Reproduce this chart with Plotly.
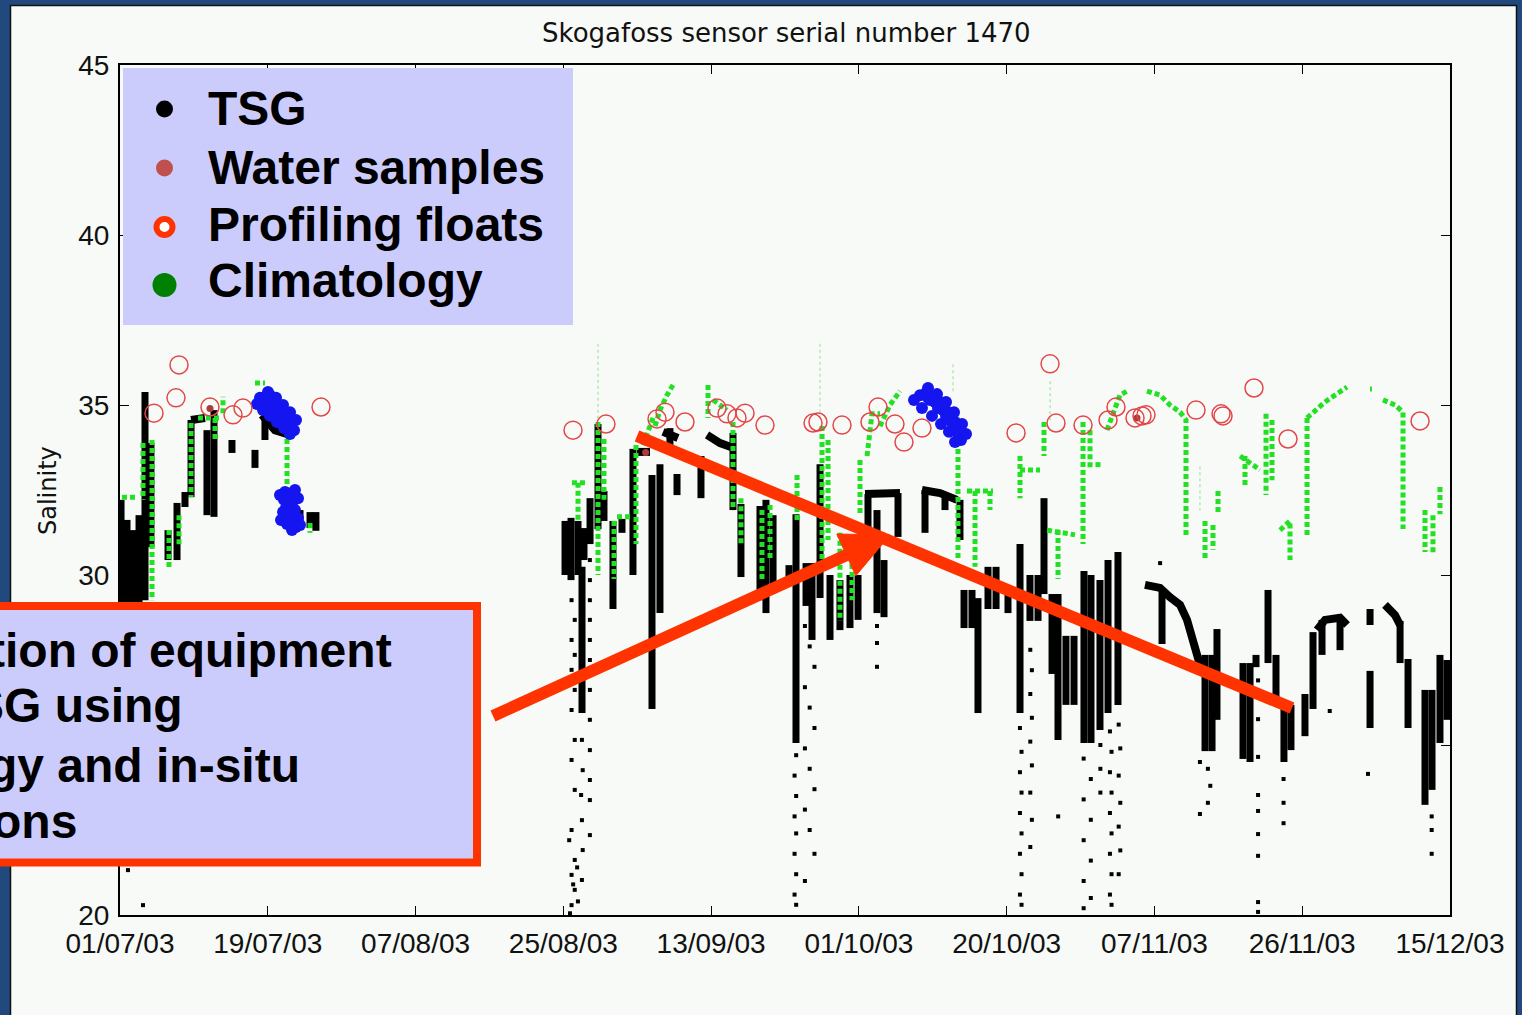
import plotly.graph_objects as go

# ---------------- data ----------------
date_labels = ["01/07/03", "19/07/03", "07/08/03", "25/08/03", "13/09/03",
               "01/10/03", "20/10/03", "07/11/03", "26/11/03", "15/12/03"]
days_shown = 167          # 01/07/03 .. 15/12/03, x axis = days since 01/07/03
sal_ticks = [20, 25, 30, 35, 40, 45]
sal_tick_text = ["20", "", "30", "35", "40", "45"]   # the 25 label is hidden by the slide's text box

# TSG: dense vertical bands (day, lowest and highest salinity of the band)
tsg_col_day = [0.13, 0.88, 1.63, 2.39, 3.14, 3.89, 6.03, 7.16, 8.16, 8.92,
               10.92, 11.80, 14.06, 16.95, 18.20, 21.60, 22.60, 23.86, 24.60, 55.88,
               56.63, 57.51, 58.26, 58.01, 59.02, 60.02, 60.77, 61.90, 63.03, 64.41,
               66.80, 67.80, 69.05, 69.94, 72.95, 76.97, 77.97, 80.36, 81.11, 82.00,
               84.00, 84.88, 86.14, 86.89, 87.90, 89.15, 90.40, 91.66, 92.67, 93.92,
               95.05, 95.93, 97.69, 101.08, 103.59, 105.47, 105.98, 106.98, 107.73, 108.99,
               110.00, 111.50, 113.01, 114.26, 115.27, 116.02, 117.03, 117.78, 118.78, 119.79,
               121.04, 121.92, 123.05, 124.06, 125.31, 130.84, 136.24, 137.12, 137.74, 141.01,
               141.89, 142.64, 144.15, 145.15, 146.15, 147.03, 148.79, 149.80, 150.93, 153.19,
               156.96, 156.96, 160.73, 161.73, 163.86, 164.74, 165.74, 166.62]
tsg_col_lo = [28.50, 28.50, 28.50, 28.50, 29.26, 30.82, 30.44, 30.44, 32.00, 32.29,
              31.76, 31.71, 33.59, 33.15, 33.97, 31.24, 31.32, 31.38, 31.30, 30.00,
              29.85, 30.00, 30.44, 25.94, 30.91, 31.35, 31.59, 29.00, 31.24, 30.00,
              26.06, 28.88, 33.82, 32.35, 32.26, 31.91, 29.94, 29.26, 28.88, 29.56,
              29.88, 25.06, 29.09, 28.09, 29.32, 28.09, 28.38, 28.44, 28.68, 30.91,
              28.88, 28.76, 31.12, 31.24, 31.91, 31.03, 28.44, 28.44, 25.94, 29.00,
              29.00, 28.88, 25.94, 28.65, 28.65, 29.44, 27.09, 25.15, 26.18, 26.18,
              25.06, 25.06, 25.44, 25.94, 26.18, 27.97, 24.82, 24.82, 25.74, 24.59,
              24.50, 27.29, 27.41, 26.18, 24.50, 24.85, 25.26, 26.06, 27.65, 27.79,
              28.53, 25.50, 27.41, 25.50, 23.24, 23.68, 25.06, 25.74]
tsg_col_hi = [32.21, 31.62, 31.32, 31.76, 35.38, 33.88, 31.32, 32.12, 32.44, 34.56,
              34.26, 34.85, 33.97, 33.68, 34.71, 32.00, 31.91, 31.85, 31.85, 31.59,
              31.68, 31.59, 31.38, 30.24, 32.26, 34.44, 32.47, 31.59, 31.65, 33.71,
              32.94, 33.26, 34.32, 32.97, 33.50, 34.18, 32.09, 32.03, 32.21, 31.76,
              30.29, 31.79, 30.35, 30.35, 33.26, 30.00, 29.85, 30.00, 30.00, 32.38,
              31.91, 30.44, 32.41, 32.50, 32.35, 32.21, 29.56, 29.56, 29.32, 30.24,
              30.24, 29.56, 30.91, 30.00, 30.00, 32.26, 29.44, 29.44, 28.21, 28.21,
              30.12, 30.00, 29.85, 30.44, 30.68, 29.56, 27.65, 27.65, 28.41, 27.41,
              27.41, 27.65, 29.56, 27.65, 26.18, 26.18, 26.50, 28.32, 28.68, 28.74,
              29.00, 27.18, 28.65, 27.53, 26.62, 26.62, 27.65, 27.50]

# TSG: plateau runs (None separates runs)
tsg_run_day = [8.92, 10.67, None, 17.83, 19.46, 21.35, None, 64.92, 66.55, None,
               68.18, 70.06, None, 73.71, 75.34, 76.97, None, 93.55, 97.94, None,
               100.70, 102.96, 105.10, None,
               128.70, 130.59, 131.84, 133.10, 133.98, 134.98, 135.61, None,
               150.30, 151.31, 153.19, 154.07, None, 158.84, 160.10, 160.73]
tsg_run_sal = [34.56, 34.62, None, 34.71, 34.26, 34.12, None, 33.62, 33.62, None,
               34.21, 34.03, None, 34.12, 33.88, 33.74, None, 32.38, 32.41, None,
               32.50, 32.41, 32.21, None,
               29.71, 29.62, 29.35, 29.12, 28.68, 27.94, 27.35, None,
               28.38, 28.68, 28.74, 28.53, None, 29.12, 28.82, 28.53]

# TSG: isolated low-salinity readings
tsg_pt_day = [1.0, 2.89,
              56.7, 57.1, 56.7, 57.1, 56.7, 57.1, 56.7, 57.1, 56.7, 57.1, 56.7, 57.1, 56.7, 57.1, 56.7,
              58.0, 58.1, 57.9, 58.0, 58.1, 58.0,
              59.0, 59.0, 59.0, 59.0, 59.0, 59.0, 59.0, 59.0, 59.0, 59.0, 59.0, 59.0,
              56.4, 57.4, 56.9, 57.5, 56.5,
              84.9, 84.7, 84.9, 84.7, 84.9, 84.7, 84.9, 84.7, 84.9,
              86.0, 86.6, 87.2, 86.0, 86.6, 87.2, 86.0, 86.6, 87.2, 86.0, 86.6, 87.2, 86.0,
              95.05, 95.05, 95.05,
              113.0, 113.2, 113.0, 113.2, 113.0, 113.2, 113.0, 113.2, 113.0, 113.2,
              114.3, 114.5, 114.3, 114.5, 114.3, 114.5, 114.3, 114.5, 114.3,
              117.8,
              121.0, 121.9, 121.0, 121.9, 121.0, 121.9, 121.0, 121.9, 121.0,
              123.1, 123.1, 123.1,
              124.3, 124.5, 124.3, 124.5, 124.3, 124.5, 124.3, 124.5, 124.3, 124.5,
              125.4, 125.6, 125.4, 125.6, 125.4, 125.6, 125.4,
              130.6,
              135.6, 135.6,
              136.6, 136.9, 136.6,
              142.9, 142.9, 142.9, 142.9, 142.9, 142.9, 142.9, 142.9, 142.9,
              146.1, 146.1, 146.1,
              151.9,
              156.7,
              164.7, 164.7, 164.7]
tsg_pt_sal = [21.32, 20.29,
              29.26, 28.68, 28.09, 27.65, 27.21, 26.62, 26.03, 25.15, 24.56, 23.68, 22.50, 21.62, 21.18, 20.74, 20.29,
              25.15, 24.26, 23.53, 22.79, 21.91, 21.03,
              30.44, 29.85, 29.26, 28.68, 28.09, 27.50, 26.62, 25.74, 24.85, 23.97, 23.38, 22.35,
              22.2, 21.4, 20.9, 20.4, 20.05,
              24.7, 24.1, 23.5, 22.9, 22.4, 21.8, 21.2, 20.6, 20.3,
              28.5, 27.9, 27.3, 26.7, 26.1, 25.5, 24.9, 24.3, 23.7, 23.1, 22.5, 21.8, 21.0,
              28.5, 28.0, 27.3,
              25.5, 24.8, 24.2, 23.6, 23.0, 22.4, 21.8, 21.2, 20.6, 20.3,
              27.8, 27.2, 26.5, 25.8, 25.1, 24.4, 23.6, 22.8, 22.0,
              22.9,
              24.6, 24.0, 23.4, 22.8, 22.2, 21.6, 21.0, 20.5, 20.2,
              25.0, 24.3, 23.6,
              25.4, 24.8, 24.2, 23.6, 23.0, 22.4, 21.8, 21.2, 20.6, 20.3,
              25.6, 24.9, 24.1, 23.3, 22.6, 21.9, 21.2,
              30.35,
              24.50, 22.97,
              24.3, 23.8, 23.3,
              26.9, 25.76, 24.65, 23.53, 23.06, 22.38, 21.74, 20.38, 20.09,
              24.0, 23.3, 22.7,
              26.0,
              24.15,
              22.9, 22.5, 21.8]

# Climatology (None separates runs)
clim_day = [0.25, 1.88, None, 2.89, 2.89, None, 4.02, 4.02, None, 6.15, 6.15, None,
            7.41, 7.41, None, 8.92, 8.92, None, 9.79, 12.56, None, 11.93, 11.93, None,
            12.93, 12.93, None, 16.95, 18.21, None, 20.97, 20.97, None, 21.35, 21.35, None,
            23.86, 23.86, None, 56.75, 58.39, None, 57.51, 57.51, None, 60.02, 60.02, None,
            60.77, 60.77, None, 62.03, 62.03, None, 62.41, 64.29, None, 64.79, 64.79, None,
            65.67, 66.93, None, 67.18, 67.80, 68.68, 69.44, None,
            73.83, 73.83, None, 74.46, 76.22, None, 76.97, 76.97, None, 77.97, 77.97, None,
            80.61, 80.61, None, 81.62, 81.62, None, 85.01, 85.01, None, 88.15, 88.15, None,
            88.90, 88.90, None, 90.40, 90.40, None, 91.91, 91.91, None, 92.92, 92.92, None,
            93.80, 94.42, 95.43, None, 95.43, 96.68, 97.94, None,
            105.22, 105.22, None, 106.35, 109.62, None, 107.36, 107.36, None, 109.24, 109.24, None,
            113.01, 113.01, None, 113.01, 115.52, None, 116.02, 116.02, None, 116.40, 119.91, None,
            117.78, 117.78, None, 120.92, 120.92, None, 121.80, 121.80, None, 122.80, 122.80, None,
            123.93, 124.69, 125.56, 126.44, None,
            128.95, 130.59, 131.84, 133.10, 133.85, 133.85, None,
            136.24, 136.24, None, 137.24, 137.24, None, 137.87, 137.87, None, 140.64, 143.15, None,
            141.26, 141.26, None, 143.90, 143.90, None, 144.65, 144.65, None,
            145.66, 146.91, 146.91, None, 149.05, 149.05, None,
            149.05, 150.05, 151.31, 152.57, 154.07, None, 156.96, 157.20, None,
            158.59, 160.10, 161.10, 161.10, None,
            163.86, 163.86, None, 164.86, 164.86, None, 165.74, 165.74]
clim_sal = [32.29, 32.29, None, 33.88, 32.21, None, 33.97, 29.26, None, 31.32, 30.15, None,
            31.76, 30.88, None, 34.47, 32.29, None, 34.62, 34.62, None, 34.62, 33.97, None,
            34.76, 35.24, None, 35.65, 35.65, None, 34.47, 32.50, None, 31.53, 31.24, None,
            31.53, 31.24, None, 32.71, 32.71, None, 32.71, 31.59, None, 34.50, 30.00, None,
            34.00, 32.21, None, 31.59, 29.88, None, 31.71, 31.71, None, 33.82, 30.91, None,
            33.82, 34.62, None, 34.38, 34.85, 35.29, 35.59, None,
            35.59, 34.62, None, 35.15, 34.85, None, 34.50, 31.91, None, 32.26, 30.91, None,
            31.91, 29.88, None, 32.06, 30.44, None, 32.94, 31.59, None, 34.38, 30.24, None,
            33.97, 31.03, None, 31.24, 28.65, None, 31.03, 29.26, None, 33.38, 31.79, None,
            33.50, 34.74, 34.74, None, 34.38, 35.00, 35.41, None,
            33.94, 30.44, None, 32.47, 32.47, None, 32.47, 30.24, None, 32.47, 31.91, None,
            33.50, 32.26, None, 33.09, 33.09, None, 34.50, 33.50, None, 31.32, 31.18, None,
            31.32, 29.88, None, 34.50, 30.91, None, 34.26, 33.09, None, 33.32, 33.15, None,
            34.26, 34.79, 35.29, 35.41, None,
            35.41, 35.29, 35.00, 34.79, 34.56, 31.12, None,
            31.59, 30.44, None, 31.47, 30.74, None, 32.47, 31.79, None, 33.50, 33.09, None,
            33.50, 32.59, None, 34.74, 32.35, None, 34.56, 32.79, None,
            31.32, 31.59, 30.44, None, 34.62, 31.12, None,
            34.62, 34.85, 35.09, 35.29, 35.53, None, 35.47, 35.47, None,
            35.15, 35.00, 34.79, 31.35, None,
            31.91, 30.68, None, 31.76, 30.59, None, 32.59, 31.79]

# faint climatology traces
clim_faint_day = [60.02, 60.02, None, 87.90, 87.90, None, 116.80, 116.80, None, 104.60, 104.60, None, 135.60, 135.60]
clim_faint_sal = [36.80, 34.60, None, 36.80, 34.60, None, 35.70, 34.50, None, 36.20, 35.40, None, 33.20, 31.90]

# Profiling floats
float_day = [4.27, 7.03, 7.41, 11.30, 14.19, 15.44, 25.24, 56.88, 61.02, 67.43,
             68.43, 70.94, 74.96, 76.22, 77.47, 78.48, 80.99, 87.02, 87.64, 90.66,
             94.17, 95.18, 97.31, 98.44, 100.70, 112.51, 116.78, 117.53, 120.92, 124.06,
             125.06, 127.45, 128.33, 128.83, 135.11, 138.25, 138.50, 142.39, 146.66, 163.24]
float_sal = [34.76, 35.21, 36.18, 34.94, 34.71, 34.91, 34.94, 34.26, 34.44, 34.59,
             34.79, 34.50, 34.91, 34.74, 34.62, 34.76, 34.41, 34.47, 34.50, 34.41,
             34.50, 34.94, 34.44, 33.91, 34.32, 34.18, 36.21, 34.47, 34.41, 34.56,
             34.94, 34.62, 34.68, 34.71, 34.85, 34.74, 34.68, 35.50, 34.00, 34.53]

# Water samples
sample_day = [11.30, 66.00, 127.70]
sample_sal = [34.90, 33.60, 34.62]

# Blue clusters
blue_day = [17.58, 18.33, 18.83, 18.08, 19.09, 19.59, 19.84, 20.34, 20.72, 21.10, 21.47, 21.85, 20.09, 20.97, 18.83,
            18.58, 19.59, 20.47, 21.35, 22.10, 17.20, 17.96, 18.83, 19.71, 20.59, 21.35,
            20.72, 21.35, 20.59, 21.60, 20.84, 21.97, 21.10, 21.72, 20.97, 22.10, 20.47, 22.35,
            20.09, 22.35, 20.22, 22.60, 21.60, 21.97,
            100.45, 101.21, 101.71, 102.34, 102.71, 103.34, 103.72, 104.22, 104.60, 104.97, 105.35, 105.60,
            102.96, 103.97, 104.85, 101.46,
            101.46, 102.59, 103.72, 104.72, 105.73, 106.23, 99.70, 100.70, 101.96, 103.09, 104.09, 104.85]
blue_sal = [35.21, 35.24, 35.09, 35.00, 34.91, 34.97, 34.79, 34.74, 34.62, 34.50, 34.38, 34.26, 34.56, 34.32, 35.29,
            35.38, 35.21, 35.00, 34.79, 34.56, 35.03, 34.85, 34.68, 34.50, 34.32, 34.15,
            32.44, 32.35, 32.21, 32.12, 31.97, 31.91, 31.76, 31.62, 31.50, 31.41, 31.85, 31.68,
            32.35, 32.26, 31.62, 31.47, 31.32, 32.50,
            35.29, 35.35, 35.15, 35.09, 34.91, 34.85, 34.68, 34.56, 34.38, 34.26, 34.09, 33.97,
            35.09, 34.79, 34.50, 35.21,
            35.50, 35.32, 35.09, 34.79, 34.44, 34.15, 35.15, 34.91, 34.68, 34.44, 34.21, 33.91]

assert len(tsg_col_day) == len(tsg_col_lo) == len(tsg_col_hi)
assert len(tsg_run_day) == len(tsg_run_sal)
assert len(tsg_pt_day) == len(tsg_pt_sal)
assert len(clim_day) == len(clim_sal)
assert len(blue_day) == len(blue_sal)

# ---------------- build traces ----------------
col_x, col_y = [], []
for d, lo, hi in zip(tsg_col_day, tsg_col_lo, tsg_col_hi):
    col_x += [d, d, None]
    col_y += [lo, hi, None]

fig = go.Figure()
fig.add_trace(go.Scatter(x=col_x, y=col_y, mode="lines",
                         line=dict(color="black", width=7), hoverinfo="skip"))
fig.add_trace(go.Scatter(x=tsg_run_day, y=tsg_run_sal, mode="lines",
                         line=dict(color="black", width=8), hoverinfo="skip"))
fig.add_trace(go.Scatter(x=tsg_pt_day, y=tsg_pt_sal, mode="markers",
                         marker=dict(color="black", size=4, symbol="square"), hoverinfo="skip"))
fig.add_trace(go.Scatter(x=clim_faint_day, y=clim_faint_sal, mode="lines",
                         line=dict(color="rgba(60,200,60,0.35)", width=1.5, dash="dot"), hoverinfo="skip"))
fig.add_trace(go.Scatter(x=clim_day, y=clim_sal, mode="lines",
                         line=dict(color="#22e022", width=5, dash="5px,3px"), hoverinfo="skip"))
fig.add_trace(go.Scatter(x=blue_day, y=blue_sal, mode="markers",
                         marker=dict(color="#1515f0", size=12), hoverinfo="skip"))
fig.add_trace(go.Scatter(x=sample_day, y=sample_sal, mode="markers",
                         marker=dict(color="#a83c3c", size=7), hoverinfo="skip"))
fig.add_trace(go.Scatter(x=float_day, y=float_sal, mode="markers",
                         marker=dict(symbol="circle-open", size=18, color="#e3474a",
                                     line=dict(width=1.5, color="#e3474a")), hoverinfo="skip"))

# ---------------- layout / decorations ----------------
W, H = 1522, 1015
ML, MR, MT, MB = 120, 72, 65, 100
def PX(x):
    return (x - ML) / (W - ML - MR)
def PY(y):
    return (H - MB - y) / (H - MT - MB)

SLIDE = "#f7faf6"
LAV = "#ccccfc"
RED = "#ff3300"

shapes = []
shapes.append(dict(type="rect", xref="paper", yref="paper", layer="below",
                   x0=PX(10.5), x1=PX(1516.5), y0=PY(1030), y1=PY(5.5),
                   fillcolor=SLIDE, line=dict(color="#111111", width=1.5)))
# legend panel
shapes.append(dict(type="rect", xref="paper", yref="paper", layer="above",
                   x0=PX(123), x1=PX(573), y0=PY(325), y1=PY(68),
                   fillcolor=LAV, line=dict(width=0)))
def circ(cx, cy, r, fill, lc=None, lw=0):
    return dict(type="circle", xref="paper", yref="paper", layer="above",
                x0=PX(cx - r), x1=PX(cx + r), y0=PY(cy + r), y1=PY(cy - r),
                fillcolor=fill, line=dict(color=lc or fill, width=lw))
shapes.append(circ(164.5, 109, 8.5, "black"))
shapes.append(circ(164.5, 168, 8.5, "#c0504d"))
shapes.append(circ(164.5, 227, 8, "white", RED, 6))
shapes.append(circ(164.5, 285, 12, "#008000"))
# text box
shapes.append(dict(type="rect", xref="paper", yref="paper", layer="above",
                   x0=PX(-40), x1=PX(477), y0=PY(862.5), y1=PY(606),
                   fillcolor=LAV, line=dict(color=RED, width=8)))
# trend line
shapes.append(dict(type="line", xref="paper", yref="paper", layer="above",
                   x0=PX(637), y0=PY(436), x1=PX(1292), y1=PY(708),
                   line=dict(color=RED, width=12)))
# arrow
shapes.append(dict(type="line", xref="paper", yref="paper", layer="above",
                   x0=PX(493), y0=PY(716), x1=PX(851), y1=PY(553),
                   line=dict(color=RED, width=12)))
tip, c1, c2 = (890, 535), (855.8, 575.8), (836.8, 534.0)
shapes.append(dict(type="path", xref="paper", yref="paper", layer="above",
                   path=f"M {PX(tip[0])},{PY(tip[1])} L {PX(c1[0])},{PY(c1[1])} L {PX(c2[0])},{PY(c2[1])} Z",
                   fillcolor=RED, line=dict(color=RED, width=1)))

BOLD = dict(family="Liberation Sans, Arial, sans-serif", size=48, color="black", weight="bold")
annotations = []
annotations.append(dict(text="Skogafoss sensor serial number 1470", xref="paper", yref="paper",
                        x=PX(786), y=PY(33), xanchor="center", yanchor="middle", showarrow=False,
                        font=dict(family="DejaVu Sans, sans-serif", size=26, color="#111111")))
annotations.append(dict(text="Salinity", xref="paper", yref="paper", textangle=-90,
                        x=PX(48), y=PY(491), xanchor="center", yanchor="middle", showarrow=False,
                        font=dict(family="DejaVu Sans, sans-serif", size=24, color="#111111")))
for label, yy in [("TSG", 108.5), ("Water samples", 167.5), ("Profiling floats", 224.5), ("Climatology", 280.5)]:
    annotations.append(dict(text=label, xref="paper", yref="paper", x=PX(206), y=PY(yy),
                            xanchor="left", yanchor="middle", showarrow=False, font=BOLD))
for label, xr, yy in [("tion of equipment", 394, 650), ("SG using", 185, 705),
                      ("gy and in-situ", 302, 765), ("ons", 79, 821)]:
    annotations.append(dict(text=label, xref="paper", yref="paper", x=PX(xr), y=PY(yy),
                            xanchor="right", yanchor="middle", showarrow=False, font=BOLD))

tickfont = dict(family="Liberation Sans, Arial, sans-serif", size=28, color="#111111")
fig.update_layout(
    width=W, height=H, autosize=False,
    margin=dict(l=ML, r=MR, t=MT, b=MB, pad=0),
    paper_bgcolor="#21497d", plot_bgcolor=SLIDE,
    showlegend=False, shapes=shapes, annotations=annotations,
    xaxis=dict(range=[0, days_shown], tickmode="array",
               tickvals=[i * days_shown / 9 for i in range(10)], ticktext=date_labels,
               ticks="inside", ticklen=9, tickwidth=1.2, tickcolor="black",
               showline=True, linecolor="black", linewidth=2, mirror="ticks",
               showgrid=False, zeroline=False, tickfont=tickfont, ticklabelstandoff=2),
    yaxis=dict(range=[20, 45], tickmode="array", tickvals=sal_ticks, ticktext=sal_tick_text,
               ticks="inside", ticklen=9, tickwidth=1.2, tickcolor="black",
               showline=True, linecolor="black", linewidth=2, mirror="ticks",
               showgrid=False, zeroline=False, tickfont=tickfont, ticklabelstandoff=3),
)

fig.write_html("out.html", include_plotlyjs=True, full_html=True,
               config={"displayModeBar": False},
               post_script="document.body.style.margin='0';document.body.style.overflow='hidden';")
